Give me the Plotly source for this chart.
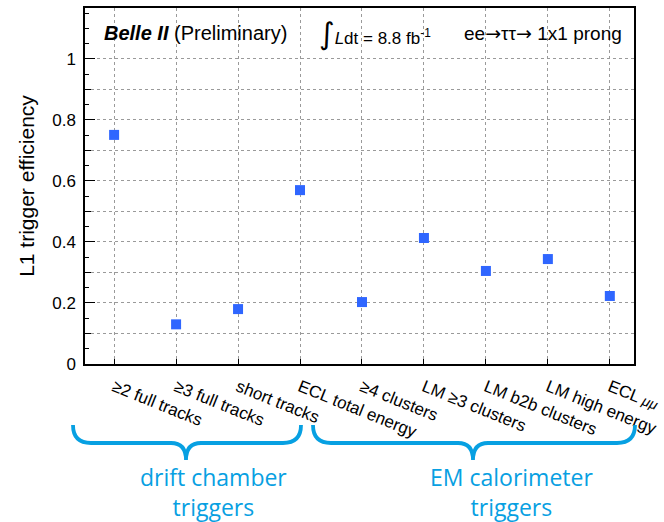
import plotly.graph_objects as go

# ---- data ----
categories = ["≥2 full tracks", "≥3 full tracks", "short tracks", "ECL total energy",
              "≥4 clusters", "LM ≥3 clusters", "LM b2b clusters", "LM high energy",
              'ECL <i><span style="font-size:14px">μμ</span></i>']
efficiency = [0.751, 0.130, 0.180, 0.570, 0.203, 0.413, 0.305, 0.344, 0.223]
y_label_vals = [0, 0.2, 0.4, 0.6, 0.8, 1.0]
y_label_text = ["0", "0.2", "0.4", "0.6", "0.8", "1"]
y_grid_vals = [0, 0.1, 0.2, 0.3, 0.4, 0.5, 0.6, 0.7, 0.8, 0.9, 1.0]
group_names = ["drift chamber<br>triggers", "EM calorimeter<br>triggers"]

W, H = 664, 522
L, R, T, B = 85, 30, 8, 158
PW, PH = W - L - R, H - T - B


def px(x):
    return (x - L) / PW


def py(y):
    return (H - B - y) / PH


xs = list(range(len(categories)))
YMAX = 1.167

fig = go.Figure()
fig.add_trace(go.Scatter(
    x=xs, y=efficiency, mode="markers",
    marker=dict(symbol="square", size=10, color="#2f66ff"),
    showlegend=False, hoverinfo="skip"))
# invisible helper trace on the overlay axis carrying the labelled ticks
fig.add_trace(go.Scatter(x=[xs[0]], y=[0], yaxis="y2", mode="markers",
                         marker=dict(opacity=0), showlegend=False, hoverinfo="skip"))

grid = dict(showgrid=True, gridcolor="#9a9a9a", griddash="dot", gridwidth=1)
fig.update_layout(
    width=W, height=H,
    margin=dict(l=L, r=R, t=T, b=B),
    paper_bgcolor="white", plot_bgcolor="white",
    font=dict(family="Liberation Sans, Arial, sans-serif", color="black"),
    xaxis=dict(range=[-0.47, 8.39], tickvals=xs, ticktext=categories,
               tickangle=22, tickfont=dict(size=17), ticks="inside", ticklen=5,
               ticklabelstandoff=5, ticklabeloverflow="allow",
               tickcolor="black", showline=True, linecolor="black", linewidth=1.5,
               mirror=True, zeroline=False, automargin=False, **grid),
    yaxis=dict(range=[0, YMAX], tickvals=y_grid_vals, ticks="inside", ticklen=6,
               tickcolor="black", showticklabels=False,
               minor=dict(dtick=0.05, tick0=0, ticks="inside", ticklen=4, tickcolor="black", showgrid=False),
               showline=True, linecolor="black", linewidth=1.5, mirror=True,
               zeroline=False, automargin=False, **grid),
    yaxis2=dict(range=[0, YMAX], overlaying="y", side="left", tickvals=y_label_vals,
                ticktext=y_label_text, ticks="inside", ticklen=10, tickcolor="black",
                tickfont=dict(size=17), ticklabelstandoff=8,
                showgrid=False, zeroline=False, showline=False,
                title=dict(text="L1 trigger efficiency", font=dict(size=21), standoff=12),
                automargin=False),
)

# white band hiding the grid above 1.0 (title area)
fig.add_shape(type="rect", xref="paper", yref="y", x0=0.003, x1=0.997, y0=1.003, y1=YMAX,
              fillcolor="white", line=dict(width=0), layer="between")

# header texts
fig.add_annotation(text="<b><i>Belle II</i></b> (Preliminary)", xref="paper", yref="paper",
                   x=px(102), y=py(33), xanchor="left", yanchor="middle", showarrow=False,
                   font=dict(size=20))
fig.add_annotation(text='<span style="font-family:DejaVu Sans;font-size:30px">∫</span>'
                        '<i>L</i>dt = 8.8 fb<sup>-1</sup>',
                   xref="paper", yref="paper",
                   x=px(317), y=py(34), xanchor="left", yanchor="middle", showarrow=False,
                   font=dict(size=17))
ARW = '<span style="font-family:DejaVu Sans">→</span>'
fig.add_annotation(text=f"ee{ARW}ττ{ARW} 1x1 prong", xref="paper", yref="paper",
                   x=px(462), y=py(33), xanchor="left", yanchor="middle", showarrow=False,
                   font=dict(size=19))

# group braces
BLUE = "#07a0e2"


def brace(x0, x1, xm, ytop, yh, ytip, r=18, rt=15):
    pts = (f"M {px(x0)},{py(ytop)} Q {px(x0)},{py(yh)} {px(x0 + r)},{py(yh)} "
           f"L {px(xm - rt)},{py(yh)} Q {px(xm)},{py(yh)} {px(xm)},{py(ytip)} "
           f"Q {px(xm)},{py(yh)} {px(xm + rt)},{py(yh)} "
           f"L {px(x1 - r)},{py(yh)} Q {px(x1)},{py(yh)} {px(x1)},{py(ytop)}")
    return pts


for (x0, x1, xm) in [(73, 301, 186), (313, 635, 473)]:
    fig.add_shape(type="path", xref="paper", yref="paper",
                  path=brace(x0, x1, xm, 425, 443, 460),
                  line=dict(color=BLUE, width=3.8))

for name, cx in zip(group_names, [213, 511]):
    fig.add_annotation(text=name, xref="paper", yref="paper", x=px(cx), y=py(492),
                       xanchor="center", yanchor="middle", showarrow=False, align="center",
                       font=dict(size=23, family="Open Sans", color=BLUE))

fig.write_html("out.html")
